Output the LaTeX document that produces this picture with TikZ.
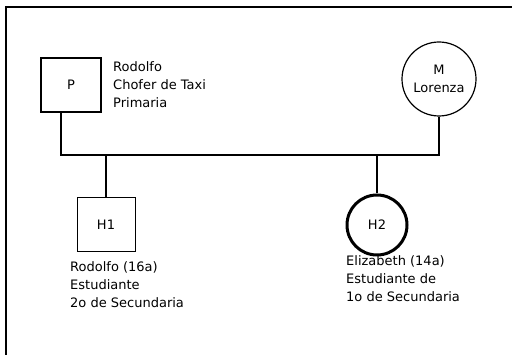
\documentclass[tikz,border=0pt]{standalone}
\usepackage{fontspec}
\newfontfamily\genofont{DejaVu Sans}
\usetikzlibrary{calc}

\begin{document}
\begin{tikzpicture}[x=1pt,y=-1pt,frame/.style={line width=1.2pt},link/.style={line width=1.2pt},male/.style={draw,rectangle,minimum width=60pt,minimum height=54pt,inner sep=0pt},female/.style={draw,circle,inner sep=0pt},label/.style={font=\genofont\fontsize{13}{18}\selectfont},info/.style={label,align=left,anchor=north west,inner sep=0pt}]
\useasboundingbox (0,0) rectangle (512,355);
\draw[frame] (6,355)--(6,7)--(512,7);
\node[male,line width=2.6pt,label] (P) at (71,85) {P}; \node[info] (Pinfo) at (113,61) {Rodolfo\\Chofer de Taxi\\Primaria};
\node[female,minimum size=74pt,line width=1.2pt,label,align=center] (M) at (439,79) {M\\Lorenza};
\node[male,minimum width=58pt,line width=1pt,label] (H1) at (106,225) {H1}; \node[info] (H1info) at (70,261) {Rodolfo (16a)\\Estudiante\\2o de Secundaria};
\node[female,minimum size=60pt,line width=3pt,label] (H2) at (377,225) {H2}; \node[info] (H2info) at (346,255) {Elizabeth (14a)\\Estudiante de\\1o de Secundaria};
\coordinate (bar) at (0,155);
\draw[link] ([xshift=-10pt]P.south) |- (M.south |- bar) -- (M.south);
\draw[link] (H1.north |- bar) -- (H1.north); \draw[link] (H2.north |- bar) -- (H2.north);
\end{tikzpicture}
\end{document}
